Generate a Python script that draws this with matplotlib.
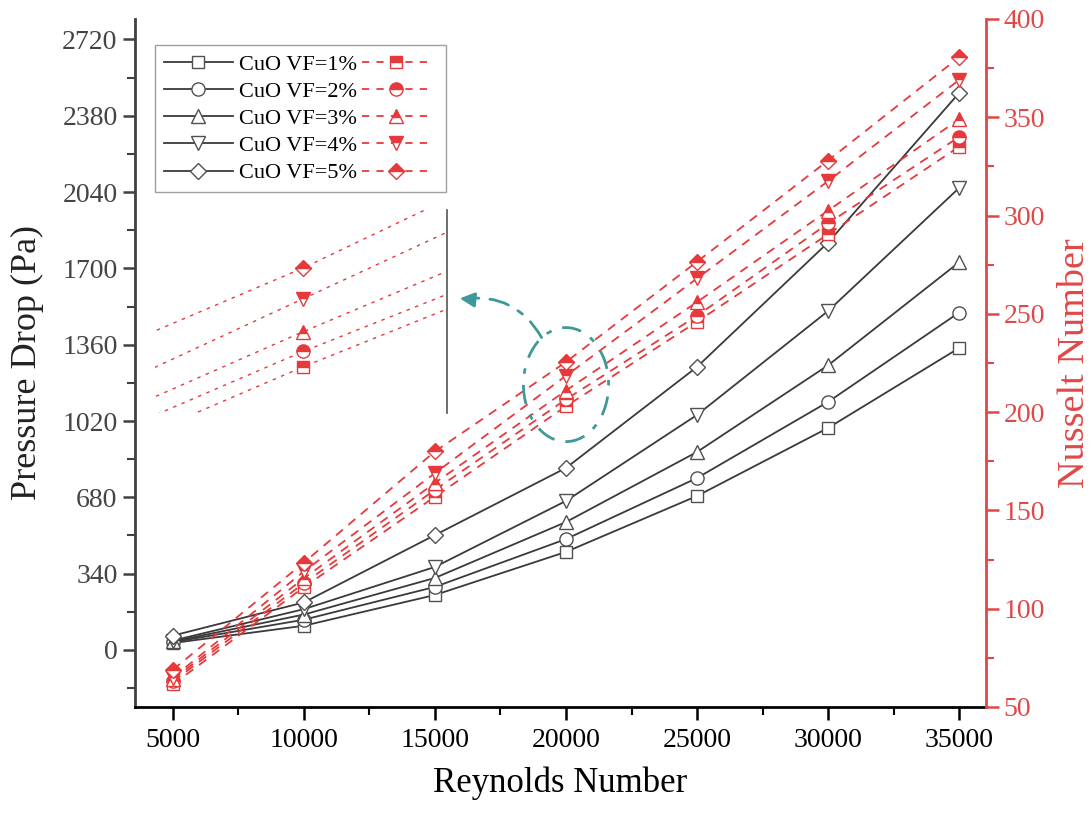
import numpy as np
import matplotlib
matplotlib.use("Agg")
import matplotlib.pyplot as plt
from matplotlib.ticker import MultipleLocator
from matplotlib.lines import Line2D
from matplotlib import patches

plt.rcParams["font.family"] = ["Liberation Serif", "DejaVu Serif"]

# data
reynolds = [5000, 10000, 15000, 20000, 25000, 30000, 35000]
labels = ["CuO VF=1%", "CuO VF=2%", "CuO VF=3%", "CuO VF=4%", "CuO VF=5%"]
markers = ["s", "o", "^", "v", "D"]

dp_vf1 = [31, 108, 245, 437, 686, 989, 1345]
dp_vf2 = [35, 135, 281, 494, 766, 1105, 1503]
dp_vf3 = [38, 158, 321, 570, 882, 1268, 1727]
dp_vf4 = [42, 182, 370, 664, 1047, 1510, 2058]
dp_vf5 = [64, 212, 512, 811, 1261, 1815, 2481]

nu_vf1 = [61.5, 111, 157, 203, 246, 290.5, 335]
nu_vf2 = [63, 113, 160.5, 206.5, 249, 296, 340]
nu_vf3 = [64, 115.5, 164, 211, 256, 302.5, 349]
nu_vf4 = [65, 119, 169, 218.5, 268, 317.5, 369]
nu_vf5 = [69, 123.5, 180, 225.5, 276.5, 328, 380.5]

dp_all = [dp_vf1, dp_vf2, dp_vf3, dp_vf4, dp_vf5]
nu_all = [nu_vf1, nu_vf2, nu_vf3, nu_vf4, nu_vf5]

RED = "#E5393C"
AXRED = "#E04848"
DARK = "#3A3A3A"
TEAL = "#3E9A98"

fig = plt.figure(figsize=(10.91, 8.18), dpi=100)
ax = fig.add_axes([0.1237, 0.1357, 0.7801, 0.8411])
ax2 = ax.twinx()

def msize(m):
    return 8.5 if m in ("s", "D") else 9.5

for dp, m in zip(dp_all, markers):
    ax.plot(reynolds, dp, color=DARK, lw=1.3, marker=m, ms=msize(m),
            mfc="white", mec="#505050", mew=1.0, zorder=3)

for nu, m in zip(nu_all, markers):
    ax2.plot(reynolds, nu, color=RED, lw=1.3, dashes=(5, 4), marker=m,
             ms=msize(m), fillstyle="top", mfc=RED, mfcalt="white",
             mec=RED, mew=1.0)

# axes ranges / ticks
ax.set_xlim(3550, 36030)
ax.set_ylim(-254, 2811)
ax2.set_ylim(50, 400)
ax.xaxis.set_major_locator(MultipleLocator(5000))
ax.xaxis.set_minor_locator(MultipleLocator(2500))
ax.yaxis.set_major_locator(MultipleLocator(340))
ax.yaxis.set_minor_locator(MultipleLocator(170))
ax2.yaxis.set_major_locator(MultipleLocator(50))
ax2.yaxis.set_minor_locator(MultipleLocator(25))

ax.spines["top"].set_visible(False)
ax.spines["right"].set_visible(False)
ax.spines["left"].set_color("#404040")
ax.spines["left"].set_linewidth(2)
ax.spines["bottom"].set_linewidth(2)
for s in ["top", "left", "bottom"]:
    ax2.spines[s].set_visible(False)
ax2.spines["right"].set_color(AXRED)
ax2.spines["right"].set_linewidth(2)

ax.tick_params(axis="x", which="major", length=9, width=1.8, labelsize=20, pad=6)
ax.tick_params(axis="x", which="minor", length=6, width=1.5)
ax.tick_params(axis="y", which="major", length=9, width=1.8, labelsize=20,
               colors="#404040", labelcolor="#444444")
ax.tick_params(axis="y", which="minor", length=6, width=1.5, colors="#404040")
ax2.tick_params(axis="y", which="major", length=9, width=1.8, labelsize=20,
                colors=AXRED)
ax2.tick_params(axis="y", which="minor", length=6, width=1.5, colors=AXRED)

ax.set_xlabel("Reynolds Number", fontsize=25, labelpad=10)
ax.set_ylabel("Pressure Drop (Pa)", fontsize=26, color="#222222", labelpad=13)
ax2.set_ylabel("Nusselt Number", fontsize=27.5, color=AXRED, labelpad=9)

# legend: black handle, label, red handle
h_black = [Line2D([], [], color=DARK, lw=1.3, marker=m, ms=msize(m), mfc="white",
                  mec="#505050", mew=1.0) for m in markers]
h_red = [Line2D([], [], color=RED, lw=1.3, dashes=(4, 4), marker=m, ms=msize(m),
                fillstyle="top", mfc=RED, mfcalt="white", mec=RED, mew=1.0)
         for m in markers]
leg = ax2.legend(h_black + h_red, labels + [""] * 5, ncol=2, loc="upper left",
                 bbox_to_anchor=(0.0235, 0.962), borderaxespad=0, fontsize=16,
                 handlelength=3.1, handletextpad=0.3, columnspacing=0.2,
                 labelspacing=0.3, frameon=True, fancybox=False,
                 edgecolor="#888888", borderpad=0.4)
leg.get_frame().set_linewidth(1.0)

# zoomed inset around Re = 20000
axins = fig.add_axes([155 / 1091, 1 - 413 / 818, 292 / 1091, 203 / 818])
axins.patch.set_alpha(0)
for nu, m in zip(nu_all, markers):
    axins.plot(reynolds, nu, color=RED, lw=1.0, dashes=(2.5, 4), marker=m,
               ms=msize(m), fillstyle="top", mfc=RED, mfcalt="white",
               mec=RED, mew=1.0)
axins.set_xlim(18425, 21530)
axins.set_ylim(192.5, 238.7)
for s in ["top", "left", "bottom"]:
    axins.spines[s].set_visible(False)
axins.spines["right"].set_color("#555555")
axins.spines["right"].set_linewidth(1.2)
axins.set_xticks([])
axins.set_yticks([])

# ellipse + curved arrow annotation
ell = patches.Ellipse((20000, 214), width=3250, height=58, fill=False,
                      edgecolor=TEAL, lw=2, linestyle=(0, (7, 4, 2, 4)), zorder=5)
ax2.add_patch(ell)
curve = patches.FancyArrowPatch((19120, 236.7), (16000, 257.5),
                                connectionstyle="arc3,rad=0.35", arrowstyle="-",
                                color=TEAL, lw=2, linestyle=(0, (7, 4, 2, 4)))
ax2.add_patch(curve)
ax2.annotate("", xy=(15840, 258), xytext=(16600, 257),
             arrowprops=dict(arrowstyle="-|>", color=TEAL, lw=2,
                             mutation_scale=22))

fig.savefig("out.png", dpi=100)
